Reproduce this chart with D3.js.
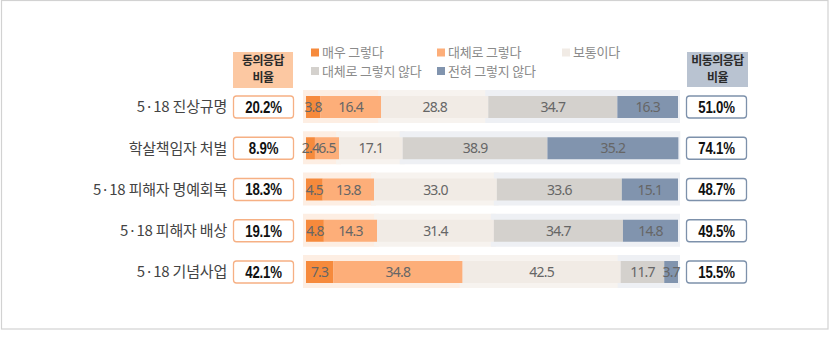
<!DOCTYPE html>
<html><head><meta charset="utf-8">
<script src="https://cdn.jsdelivr.net/npm/d3@7"></script>
<style>
body{margin:0;background:#fff;}
svg{display:block;font-family:"Noto Sans CJK KR","Noto Sans",sans-serif;}
</style></head>
<body><svg id="c" width="830" height="341"></svg>
<script>
const categories = ["5·18 진상규명","학살책임자 처벌","5·18 피해자 명예회복","5·18 피해자 배상","5·18 기념사업"];
const seriesNames = ["매우 그렇다","대체로 그렇다","보통이다","대체로 그렇지 않다","전혀 그렇지 않다"];
const veryAgree    = [3.8, 2.4, 4.5, 4.8, 7.3];
const agree        = [16.4, 6.5, 13.8, 14.3, 34.8];
const neutral      = [28.8, 17.1, 33.0, 31.4, 42.5];
const disagree     = [34.7, 38.9, 33.6, 34.7, 11.7];
const veryDisagree = [16.3, 35.2, 15.1, 14.8, 3.7];
const agreeRate    = ["20.2%","8.9%","18.3%","19.1%","42.1%"];
const disagreeRate = ["51.0%","74.1%","48.7%","49.5%","15.5%"];
const colors = ["#f68a3c","#fdae79","#f1ebe5","#d4d1cd","#8194ae"];
const haloColors = ["#fdeee3","#f7f3ef","#eef0f4"];

const series = [veryAgree, agree, neutral, disagree, veryDisagree];
const svg = d3.select("#c");

// outer frame
svg.append("rect").attr("x",1.5).attr("y",0.5).attr("width",826.5).attr("height",328.5)
  .attr("fill","none").attr("stroke","#d2d2d2").attr("stroke-width",1.2);

const x = d3.scaleLinear().domain([0,100]).range([306,678]);
const y = d3.scalePoint().domain(categories).range([107,272]);
const barH = 22;

const stackData = categories.map((c,i)=>{
  const o={cat:c}; seriesNames.forEach((s,k)=>o[s]=series[k][i]); return o;});
const stacked = d3.stack().keys(seriesNames)(stackData);

// halos (groups: agree, neutral, disagree)
categories.forEach((c,i)=>{
  const groups = [
    [stacked[0][i][0], stacked[1][i][1]],
    [stacked[2][i][0], stacked[2][i][1]],
    [stacked[3][i][0], stacked[4][i][1]]
  ];
  groups.forEach((g,k)=>{
    svg.append("rect")
      .attr("x", x(g[0])-3).attr("width", x(g[1])-x(g[0])+5)
      .attr("y", y(c)-barH/2-6).attr("height", barH+11)
      .attr("fill", haloColors[k]);
  });
});

// bars
stacked.forEach((layer,k)=>{
  svg.append("g").selectAll("rect").data(layer).join("rect")
    .attr("x", d=>x(d[0])).attr("width", d=>x(d[1])-x(d[0]))
    .attr("y", d=>y(d.data.cat)-barH/2).attr("height", barH)
    .attr("fill", colors[k]);
});
// bar labels
stacked.forEach((layer,k)=>{
  svg.append("g").selectAll("text").data(layer).join("text")
    .attr("x", d=>(x(d[0])+x(d[1]))/2).attr("y", d=>y(d.data.cat))
    .attr("dy","0.36em").attr("text-anchor","middle")
    .attr("font-family","'Noto Sans',sans-serif").attr("font-size",14)
    .attr("letter-spacing","-0.8").attr("fill","#666")
    .text(d=>(d[1]-d[0]).toFixed(1));
});

// category labels
svg.append("g").selectAll("text").data(categories).join("text")
  .attr("x",227).attr("y",d=>y(d)).attr("dy","0.36em").attr("text-anchor","end")
  .attr("font-size",15).attr("letter-spacing","-0.2").attr("fill","#444").text(d=>d);

// rate boxes
function boxes(vals, x0, stroke){
  const g = svg.append("g");
  g.selectAll("rect").data(categories).join("rect")
    .attr("x",x0).attr("y",d=>y(d)-11).attr("width",60).attr("height",22)
    .attr("rx",3).attr("fill","#fff").attr("stroke",stroke).attr("stroke-width",1.3);
  g.selectAll("text").data(categories).join("text")
    .attr("transform",d=>`translate(${x0+30},${y(d)}) scale(0.8,1)`)
    .attr("dy","0.36em").attr("text-anchor","middle")
    .attr("font-family","'Liberation Sans',Arial,sans-serif")
    .attr("font-weight","bold")
    .attr("font-size",16.5).attr("letter-spacing","-0.2").attr("fill","#111")
    .text((d,i)=>vals[i]);
}
boxes(agreeRate, 233.5, "#f6b084");
boxes(disagreeRate, 686.5, "#7d91ab");

// header boxes
function header(x0, w, y0, h, fill, lines){
  svg.append("rect").attr("x",x0).attr("y",y0).attr("width",w).attr("height",h).attr("fill",fill);
  lines.forEach((t,j)=>{
    svg.append("text").attr("x",x0+w/2).attr("y",60.5+j*17).attr("dy","0.36em")
      .attr("text-anchor","middle").attr("font-weight","bold").attr("font-size",12)
      .attr("letter-spacing","-0.5").attr("fill","#2a2a2a").text(t);
  });
}
header(233, 60, 52, 36, "#fcc8a2", ["동의응답","비율"]);
header(687, 61, 52, 35, "#b9c3d1", ["비동의응답","비율"]);

// legend
const legendPos = [[311,52.5],[437,52.5],[562,52.5],[311,71],[437,71]];
const lg = svg.append("g").selectAll("g").data(seriesNames).join("g")
  .attr("transform",(d,i)=>`translate(${legendPos[i][0]},${legendPos[i][1]})`);
lg.append("rect").attr("x",0).attr("y",-4).attr("width",8).attr("height",8)
  .attr("fill",(d,i)=>colors[i]);
lg.append("text").attr("x",11).attr("y",0).attr("dy","0.35em")
  .attr("font-size",13).attr("letter-spacing","-0.2").attr("fill","#8a8a8a").text(d=>d);
</script></body></html>
